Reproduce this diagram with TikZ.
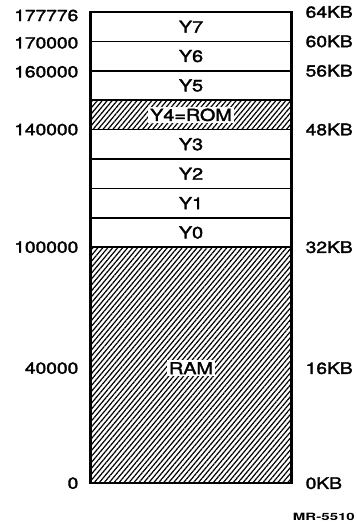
\documentclass[tikz,border=0pt]{standalone}
\usepackage{fontspec}
\setmainfont[FakeStretch=1.2,FakeBold=2]{TeX Gyre Heros}
\newfontfamily\figfont[FakeStretch=1.5]{TeX Gyre Heros}
\usetikzlibrary{positioning, patterns.meta}

\begin{document}
\begin{tikzpicture}[x=1pt,y=1pt,node distance=0pt]
    \tikzset{slot/.style={draw,line width=1.6pt,minimum width=201pt,minimum height=29.4pt,inner sep=0pt,outer sep=0pt,font=\fontsize{16.5}{18}\selectfont},
      hatch/.style={slot,pattern={Lines[angle=50,distance=3.8pt,line width=1.2pt]}},
      tag/.style={fill=white,inner sep=2pt,font=\fontsize{16.5}{18}\selectfont},
      addr/.style={inner sep=0pt,font=\fontsize{16}{18}\selectfont},
      kb/.style={addr}}
    \useasboundingbox (0,0) rectangle (356,524);
    \node[slot,anchor=north] (y7) at (191,512) {Y7};
    \node[slot,below=of y7] (y6) {Y6};
    \node[slot,below=of y6] (y5) {Y5};
    \node[hatch,below=of y5,label={[tag]center:Y4=ROM}] (y4) {};
    \node[slot,below=of y4] (y3) {Y3};
    \node[slot,below=of y3] (y2) {Y2};
    \node[slot,below=of y2] (y1) {Y1};
    \node[slot,below=of y1] (y0) {Y0};
    \node[hatch,below=of y0,minimum height=236pt,label={[tag,yshift=-3pt]center:RAM}] (ram) {};
    \draw[line width=2.6pt] (y7.north west) rectangle (ram.south east);
    % addresses
    \node[addr,left=12pt of y7.north west,yshift=-3.5pt] (a177776) {177776};
    \node[addr,left=12pt of y6.north west,yshift=-1.5pt] (a170000) {170000};
    \node[addr,left=12pt of y5.north west,yshift=-1pt] (a160000) {160000};
    \node[addr,left=12pt of y4.south west] (a140000) {140000};
    \node[addr,left=12pt of ram.north west] (a100000) {100000};
    \node[addr,left=12pt of ram.west,yshift=-3pt] (a40000) {40000};
    \node[addr,left=12pt of ram.south west] (a0) {0};
    % sizes
    \node[kb,right=14pt of y7.north east] (k64) {64KB};
    \node[kb,right=14pt of y6.north east] (k60) {60KB};
    \node[kb,right=14pt of y5.north east] (k56) {56KB};
    \node[kb,right=14pt of y4.south east] (k48) {48KB};
    \node[kb,right=14pt of ram.north east] (k32) {32KB};
    \node[kb,right=14pt of ram.east,yshift=-3pt] (k16) {16KB};
    \node[kb,right=14pt of ram.south east] (k0) {0KB};
    \node[anchor=east,inner sep=0pt,font=\figfont\bfseries\fontsize{10}{12}\selectfont] (mr) at (355,7) {MR-5510};
\end{tikzpicture}
\end{document}
